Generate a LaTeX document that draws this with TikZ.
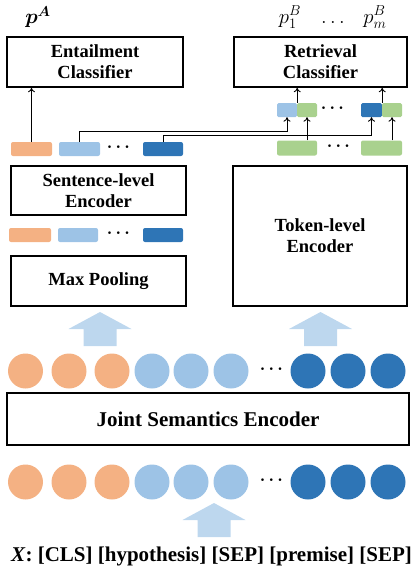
\documentclass[tikz,border=0pt]{standalone}
\usepackage{amsmath,bm}
\usepackage{fontspec}
\setmainfont{Liberation Serif}
\usetikzlibrary{arrows.meta,calc}
\definecolor{corange}{HTML}{F4B183}
\definecolor{clblue}{HTML}{9DC3E6}
\definecolor{cdblue}{HTML}{2E75B6}
\definecolor{cgreen}{HTML}{A9D18E}
\definecolor{carrow}{HTML}{BDD7EE}
\begin{document}
\begin{tikzpicture}[x=1pt,y=-1pt,
  bigbox/.style={draw=black,line width=1.6pt,align=center,inner sep=0pt,
    font=\fontsize{18.5}{21}\selectfont\bfseries},
  cell/.style={rounded corners=2pt,inner sep=0pt,minimum height=14pt,fill=#1},
  tokc/.style={circle,inner sep=0pt,minimum size=35pt,fill=#1},
  dotsn/.style={inner sep=0pt,font=\fontsize{18}{18}\selectfont\boldmath},
  mathn/.style={inner sep=0pt,font=\fontsize{21}{24}\selectfont},
  conn/.style={line width=0.9pt,-{To[length=4.5pt,width=7pt]}},
  bigarrow/.pic={\fill[carrow] (-16.5,0) -- (-16.5,-17) -- (-31.5,-17) -- (0,-34)
      -- (31.5,-17) -- (16.5,-17) -- (16.5,0) -- cycle;}
]
\useasboundingbox (0,0) rectangle (415,574);

% big boxes
\node[bigbox,minimum width=176pt,minimum height=50pt] (ent) at (95,62) {Entailment\\Classifier};
\node[bigbox,minimum width=173pt,minimum height=50pt] (ret) at (320.5,62) {Retrieval\\Classifier};
\node[bigbox,minimum width=175pt,minimum height=49pt] (sent) at (98.5,190.5) {Sentence-level\\Encoder};
\node[bigbox,minimum width=175pt,minimum height=50pt] (maxp) at (98.5,281) {Max Pooling};
\node[bigbox,minimum width=174pt,minimum height=140pt] (tok) at (320,236) {Token-level\\Encoder};
\node[bigbox,minimum width=402pt,minimum height=52pt,font=\fontsize{21}{24}\selectfont\bfseries] (joint) at (208,419) {Joint Semantics Encoder};

% outputs
\node[mathn] (pA) at (38,17) {$\bm{p}^{\bm{A}}$};
\node[mathn] (pB1) at (290,17) {$p_1^B$};
\node[mathn] (pBd) at (333,22) {$\ldots$};
\node[mathn] (pBm) at (375,17) {$p_m^B$};

% sentence-level cells above encoder
\node[cell=corange,minimum width=41pt] (oA) at (31.5,149) {};
\node[cell=clblue,minimum width=41pt] (lA) at (79.5,149) {};
\node[dotsn] (dotA) at (120,147) {$\cdots$};
\node[cell=cdblue,minimum width=40pt] (dA) at (163,149) {};

% cells above max pooling
\node[cell=corange,minimum width=42pt] (oB) at (30,235) {};
\node[cell=clblue,minimum width=40pt] (lB) at (78,235) {};
\node[dotsn] (dotB) at (120,233) {$\cdots$};
\node[cell=cdblue,minimum width=40pt] (dB) at (163,235) {};

% token-level cells
\node[cell=cgreen,minimum width=40pt,minimum height=15pt] (gL1) at (297,148) {};
\node[dotsn] (dotL) at (340,146) {$\cdots$};
\node[cell=cgreen,minimum width=41pt,minimum height=15pt] (gL2) at (381.5,148) {};

% concatenated cells
\node[cell=clblue,minimum width=20pt,rounded corners=1.5pt] (lU) at (287,110) {};
\node[cell=cgreen,minimum width=20pt,rounded corners=1.5pt] (gU1) at (307,110) {};
\node[dotsn] (dotU) at (334,108) {$\cdots$};
\node[cell=cdblue,minimum width=21pt,rounded corners=1.5pt] (dU) at (371.5,110) {};
\node[cell=cgreen,minimum width=20pt,rounded corners=1.5pt] (gU2) at (392,110) {};

% connectors
\draw[conn] (oA.north) -- (ent.south -| oA.north);
\draw[conn] (lA.north) -- ++(0,-10) -| (lU.south);
\draw[conn] (dA.north) -- ++(0,-6) -| (dU.south);
\draw[conn] (gL1.north -| gU1.south) -- (gU1.south);
\draw[conn] (gL2.north -| gU2.south) -- (gU2.south);
\draw[conn] (lU.north east) -- (ret.south -| lU.north east);
\draw[conn] (dU.north east) -- (ret.south -| dU.north east);

% big arrows
\pic at (100,346) {bigarrow};
\pic at (320.5,346) {bigarrow};
\pic at (214,537) {bigarrow};

% token circles
\foreach \r/\y in {1/371,2/482}{
  \node[tokc=corange] (c\r1) at (25.5,\y) {};
  \node[tokc=corange] (c\r2) at (69,\y) {};
  \node[tokc=corange] (c\r3) at (112,\y) {};
  \node[tokc=clblue] (c\r4) at (152,\y) {};
  \node[tokc=clblue] (c\r5) at (191,\y) {};
  \node[tokc=clblue] (c\r6) at (231,\y) {};
  \node[dotsn] (cd\r) at (273,\y-2) {$\cdots$};
  \node[tokc=cdblue] (c\r7) at (308,\y) {};
  \node[tokc=cdblue] (c\r8) at (348,\y) {};
  \node[tokc=cdblue] (c\r9) at (388,\y) {};
}

% input text
\node[inner sep=0pt,font=\fontsize{21}{24}\selectfont\bfseries] (X) at (211.5,556) {\textit{X}: [CLS] [hypothesis] [SEP] [premise] [SEP]};
\end{tikzpicture}
\end{document}
